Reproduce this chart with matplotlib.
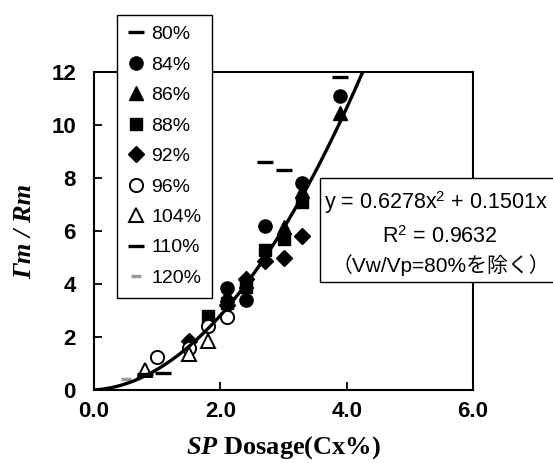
import matplotlib
matplotlib.use("Agg")
import matplotlib.pyplot as plt
from matplotlib.patches import Rectangle
import numpy as np

plt.rcParams["mathtext.fontset"] = "custom"
plt.rcParams["mathtext.rm"] = "Liberation Sans"
plt.rcParams["mathtext.it"] = "Liberation Serif:italic:bold"
plt.rcParams["mathtext.bf"] = "Liberation Serif:bold"

# ---- data ----
labels = ["80%", "84%", "86%", "88%", "92%", "96%", "104%", "110%", "120%"]
x80 = [2.7, 3.0, 3.9];                 y80 = [8.6, 8.3, 11.8]
x84 = [2.1, 2.4, 2.7, 3.3, 3.9];       y84 = [3.85, 3.4, 6.2, 7.8, 11.1]
x86 = [2.1, 2.4, 3.0, 3.3, 3.9];       y86 = [3.6, 4.1, 6.15, 7.5, 10.45]
x88 = [1.8, 2.1, 2.4, 2.7, 3.0, 3.3];  y88 = [2.8, 3.3, 3.9, 5.3, 5.7, 7.1]
x92 = [1.5, 2.1, 2.4, 2.7, 3.0, 3.3];  y92 = [1.85, 3.2, 4.2, 4.85, 5.0, 5.8]
x96 = [1.0, 1.5, 1.8, 2.1];            y96 = [1.25, 1.6, 2.4, 2.75]
x104 = [0.8, 1.5, 1.8];                y104 = [0.75, 1.35, 1.85]
x110 = [0.8, 1.1];                     y110 = [0.6, 0.65]
x120 = [0.5];                          y120 = [0.4]

fit_coef = [0.6278, 0.1501, 0.0]   # y = a x^2 + b x + c
fit_xmax = 4.4
r2 = 0.9632

xticks = [0, 2, 4, 6]
xticklabels = ["0.0", "2.0", "4.0", "6.0"]
yticks = [0, 2, 4, 6, 8, 10, 12]

# ---- figure ----
W, H = 553, 463
fig = plt.figure(figsize=(W / 100, H / 100), dpi=100)
L, R, T, B = 94, 473, 72, 390
ax = fig.add_axes([L / W, 1 - B / H, (R - L) / W, (B - T) / H])
ax.set_xlim(0, 6)
ax.set_ylim(0, 12)

xs = np.linspace(0, fit_xmax, 200)
ax.plot(xs, np.polyval(fit_coef, xs), color="black", lw=2.4, zorder=4, clip_on=True)

k = "black"
series = [
    (x80, y80, dict(marker="_", ms=12, mew=2.4, mec=k)),
    (x84, y84, dict(marker="o", ms=9.5, mfc=k, mec=k)),
    (x86, y86, dict(marker="^", ms=10.5, mfc=k, mec=k)),
    (x88, y88, dict(marker="s", ms=8.5, mfc=k, mec=k)),
    (x92, y92, dict(marker="D", ms=8.0, mfc=k, mec=k)),
    (x96, y96, dict(marker="o", ms=9.5, mfc="white", mec=k, mew=1.4)),
    (x104, y104, dict(marker="^", ms=10.5, mfc="white", mec=k, mew=1.4)),
    (x110, y110, dict(marker="_", ms=12, mew=2.4, mec=k)),
    (x120, y120, dict(marker="_", ms=7, mew=2.5, mec="#9a9a9a")),
]
handles = []
for (xv, yv, st), lab in zip(series, labels):
    h, = ax.plot(xv, yv, ls="none", label=lab, zorder=3, **st)
    handles.append(h)

for s in ax.spines.values():
    s.set_linewidth(1.5)
ax.set_xticks(xticks)
ax.set_xticklabels(xticklabels)
ax.set_yticks(yticks)
ax.tick_params(direction="in", length=6, width=1.3, labelsize=16)
ax.tick_params(axis="y", pad=13)
ax.tick_params(axis="x", pad=8)
for t in ax.get_xticklabels() + ax.get_yticklabels():
    t.set_fontweight("bold")
    t.set_fontfamily("Liberation Sans")

ax.set_ylabel("Γm / Rm", fontsize=19, fontfamily="Liberation Serif",
              fontstyle="italic", fontweight="bold", labelpad=11)
ax.set_xlabel(r"$\mathit{SP}$ Dosage(Cx%)", fontsize=19,
              fontfamily="Liberation Serif", fontweight="bold", labelpad=9)

leg = ax.legend(handles=handles, loc="upper left",
                bbox_to_anchor=(117 / W, 1 - 15 / H), bbox_transform=fig.transFigure,
                prop=dict(family="Liberation Sans", size=14),
                handlelength=0.9, handletextpad=0.3, labelspacing=0.66,
                borderpad=0.55, borderaxespad=0, frameon=True, fancybox=False,
                edgecolor="black", framealpha=1, numpoints=1)
leg.get_frame().set_linewidth(1.0)
leg.set_zorder(10)

# equation box
fig.patches.append(Rectangle((320 / W, 1 - 282 / H), 300 / W, 104 / H,
                             transform=fig.transFigure, facecolor="white",
                             edgecolor="black", lw=1.0, zorder=5))
fam = ["Liberation Sans", "Noto Sans CJK JP"]
fig.text(324 / W, 1 - 203 / H,
         f"y = {fit_coef[0]:.4f}x$^2$ + {fit_coef[1]:.4f}x", ha="left", va="center",
         fontsize=15.5, family=fam, zorder=6)
fig.text(440 / W, 1 - 237 / H, f"R$^2$ = {r2:.4f}", ha="center", va="center",
         fontsize=15.5, family=fam, zorder=6)
fig.text(441 / W, 1 - 265 / H, "（Vw/Vp=80%を除く）", ha="center", va="center",
         fontsize=15, family=fam, zorder=6)

fig.savefig("out.png", dpi=100)
